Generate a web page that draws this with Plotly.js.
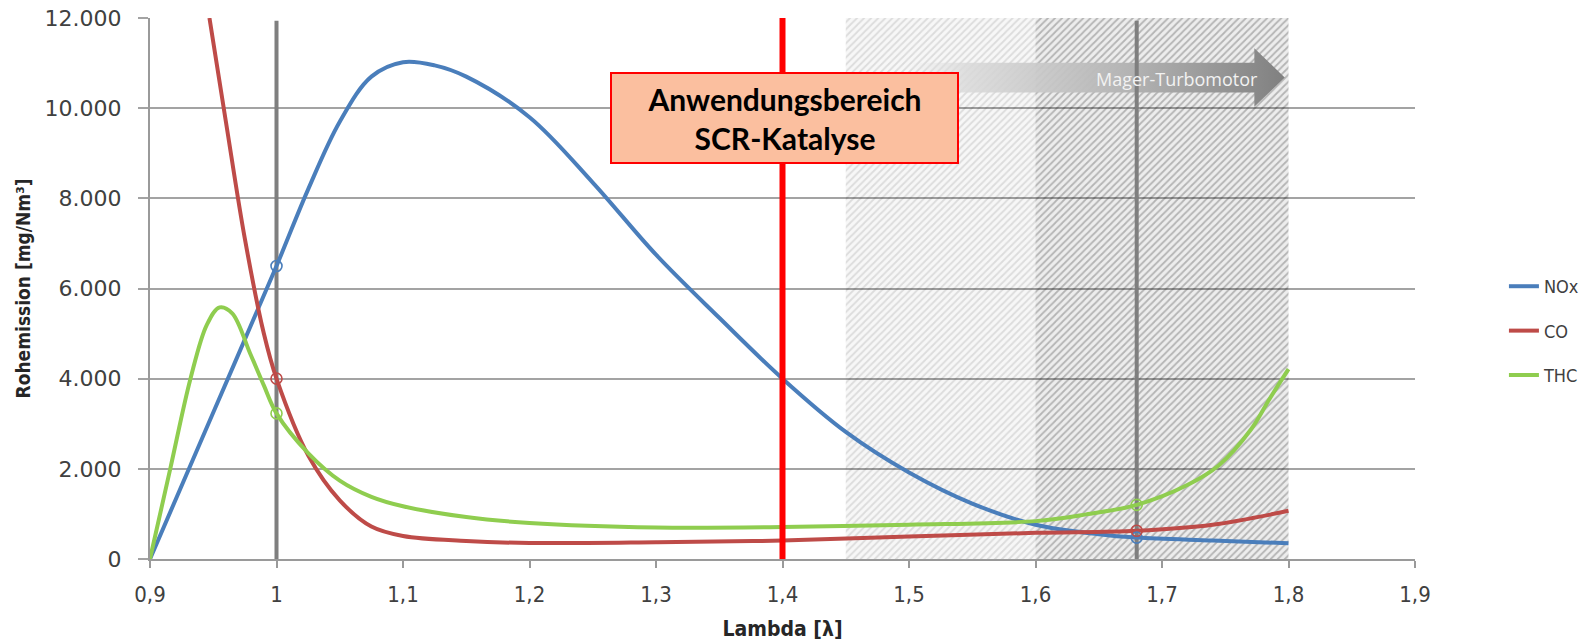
<!DOCTYPE html>
<html>
<head>
<meta charset="utf-8">
<script src="https://cdn.plot.ly/plotly-3.0.1.min.js"></script>
<style>html,body{margin:0;padding:0;background:#fff;}#chart{width:1585px;height:642px;}</style>
</head>
<body>
<div id="chart"></div>
<script>
// ---- Data ----
const seriesNames = ['NOx', 'CO', 'THC'];

const lamNOx = [0.9, 0.95, 1.0, 1.025, 1.05, 1.075, 1.1, 1.125, 1.15, 1.2, 1.25, 1.3, 1.35, 1.4, 1.45, 1.5, 1.55, 1.6, 1.65, 1.68, 1.74, 1.8];
const noxVals = [0, 3250, 6500, 8200, 9700, 10700, 11020, 10950, 10700, 9800, 8350, 6750, 5350, 4000, 2820, 1920, 1230, 760, 550, 475, 410, 350];

const lamCO = [0.947, 0.96, 0.975, 0.99, 1.0, 1.025, 1.05, 1.075, 1.1, 1.15, 1.2, 1.3, 1.4, 1.5, 1.6, 1.68, 1.74, 1.8];
const coVals = [12000, 9700, 7100, 5000, 4000, 2300, 1300, 720, 510, 400, 355, 370, 410, 500, 580, 625, 760, 1070];

const lamTHC = [0.9, 0.916, 0.932, 0.945, 0.955, 0.965, 0.979, 0.99, 1.0, 1.025, 1.05, 1.075, 1.1, 1.15, 1.2, 1.3, 1.4, 1.5, 1.6, 1.64, 1.68, 1.72, 1.745, 1.77, 1.785, 1.8];
const thcVals = [0, 2000, 4000, 5200, 5580, 5450, 4570, 3850, 3230, 2350, 1740, 1380, 1170, 930, 800, 700, 710, 760, 840, 990, 1200, 1640, 2080, 2860, 3550, 4210];

const markerLambdas = [1.0, 1.68];          // measurement points marked with circles
const refLambdas = [1.0, 1.68];             // grey vertical reference lines
const scrLambda = 1.4;                      // red line: SCR application limit
const lightZone = [1.45, 1.6];              // light hatched zone
const darkZone = [1.6, 1.8];                // dark hatched zone
const yRange = [0, 12000];
const xRange = [0.9, 1.9];

const boxText = '<b>Anwendungsbereich<br>SCR-Katalyse</b>';
const arrowText = 'Mager-Turbomotor';
const xTitle = 'Lambda [λ]';
const yTitle = 'Rohemission [mg/Nm³]';

// arrow geometry (data units)
const arrowStart = 1.5, arrowHeadBase = 1.773, arrowTip = 1.797;
const arrowY = 10680, arrowBodyHalf = 330, arrowHeadHalf = 650;

const colors = {NOx: '#4a7ebb', CO: '#be4b48', THC: '#8fcd4f'};

// ---- Helpers ----
function valAt(lams, vals, l) {
  const i = lams.findIndex(v => Math.abs(v - l) < 1e-9);
  return vals[i];
}
function zoneTrace(z, bg, fg) {
  return {
    x: [z[0], z[1], z[1], z[0], z[0]],
    y: [yRange[0], yRange[0], yRange[1], yRange[1], yRange[0]],
    mode: 'lines', line: {width: 0}, fill: 'toself',
    fillcolor: 'rgba(0,0,0,0)',
    fillpattern: {shape: '/', size: 5, solidity: 0.35, bgcolor: bg, fgcolor: fg, fgopacity: 1},
    showlegend: false, hoverinfo: 'skip'
  };
}

const series = [
  {name: 'NOx', x: lamNOx, y: noxVals},
  {name: 'CO', x: lamCO, y: coVals},
  {name: 'THC', x: lamTHC, y: thcVals}
];

const traces = [];
traces.push(zoneTrace(lightZone, 'rgba(0,0,0,0.03)', 'rgba(0,0,0,0.11)'));
traces.push(zoneTrace(darkZone, 'rgba(0,0,0,0.07)', 'rgba(0,0,0,0.24)'));

// gradient arrow
traces.push({
  x: [arrowStart, arrowHeadBase, arrowHeadBase, arrowTip, arrowHeadBase, arrowHeadBase, arrowStart, arrowStart],
  y: [arrowY + arrowBodyHalf, arrowY + arrowBodyHalf, arrowY + arrowHeadHalf, arrowY,
      arrowY - arrowHeadHalf, arrowY - arrowBodyHalf, arrowY - arrowBodyHalf, arrowY + arrowBodyHalf],
  mode: 'lines', line: {width: 0}, fill: 'toself',
  fillgradient: {type: 'horizontal', colorscale: [[0, 'rgba(225,225,225,0)'], [0.15, 'rgba(218,218,218,0.85)'], [0.6, 'rgba(178,178,178,1)'], [1, 'rgb(128,128,128)']]},
  showlegend: false, hoverinfo: 'skip'
});

// grey reference lines
refLambdas.forEach(l => traces.push({
  x: [l, l], y: [yRange[0], yRange[1] - 60], mode: 'lines',
  line: {color: '#7f7f7f', width: 4}, showlegend: false, hoverinfo: 'skip'
}));

series.forEach(s => traces.push({
  x: s.x, y: s.y, name: s.name, legendgroup: s.name, mode: 'lines',
  line: {color: colors[s.name], width: 4, shape: 'spline', smoothing: 1},
  hoverinfo: 'x+y+name'
}));

series.forEach(s => traces.push({
  x: markerLambdas, y: markerLambdas.map(l => valAt(s.x, s.y, l)),
  mode: 'markers', legendgroup: s.name, showlegend: false,
  marker: {symbol: 'circle-open', size: 11, color: colors[s.name], line: {width: 1.6, color: colors[s.name]}},
  hoverinfo: 'skip'
}));

const layout = {
  width: 1585, height: 642,
  margin: {l: 150, r: 170, t: 18, b: 83, pad: 0, autoexpand: false},
  paper_bgcolor: '#ffffff', plot_bgcolor: '#ffffff',
  separators: ',.',
  font: {family: 'DejaVu Sans', color: '#404040'},
  xaxis: {
    range: xRange, tick0: 0.9, dtick: 0.1, showgrid: false, zeroline: false,
    showline: true, linecolor: '#9a9a9a', linewidth: 2,
    ticks: 'outside', ticklen: 7, tickwidth: 2, tickcolor: '#9a9a9a',
    ticklabelstandoff: 8, automargin: false,
    tickfont: {family: 'DejaVu Sans Condensed', size: 22, color: '#404040'},
    title: {text: '<b>' + xTitle + '</b>', standoff: 15,
            font: {family: 'DejaVu Sans Condensed', size: 21, color: '#262626'}}
  },
  yaxis: {
    range: yRange, dtick: 2000, tickformat: ',.0f',
    showgrid: true, gridcolor: '#a3a3a3', gridwidth: 2, zeroline: false,
    showline: true, linecolor: '#9a9a9a', linewidth: 2,
    ticks: 'outside', ticklen: 10, tickwidth: 2, tickcolor: '#a3a3a3',
    ticklabelstandoff: 12, automargin: false,
    tickfont: {family: 'DejaVu Sans', size: 22, color: '#404040'},
    title: {text: '<b>' + yTitle + '</b>', standoff: 9,
            font: {family: 'DejaVu Sans Condensed', size: 19, color: '#262626'}}
  },
  showlegend: true,
  legend: {
    x: 1.0703, xanchor: 'left', y: 0.4214, yanchor: 'middle',
    traceorder: 'grouped', tracegroupgap: 18, itemwidth: 30,
    bgcolor: 'rgba(0,0,0,0)',
    font: {family: 'DejaVu Sans Condensed', size: 18, color: '#404040'}
  },
  shapes: [{
    type: 'line', xref: 'x', yref: 'y', x0: scrLambda, x1: scrLambda, y0: yRange[0], y1: yRange[1],
    line: {color: '#ff0000', width: 6}, layer: 'above'
  }],
  annotations: [
    {x: 1.7115, y: arrowY - 40, xref: 'x', yref: 'y', text: arrowText, showarrow: false,
     font: {family: 'Open Sans', size: 18, color: '#f2f2f2'}},
    {x: 1.4016, y: 9780, xref: 'x', yref: 'y', text: boxText, showarrow: false,
     font: {family: 'Lato', size: 30, color: '#000000'},
     bgcolor: '#fbbf9f', bordercolor: '#ff0000', borderwidth: 2,
     width: 343, height: 86, align: 'center', valign: 'middle'}
  ]
};

Plotly.newPlot('chart', traces, layout, {displayModeBar: false, staticPlot: true});
</script>
</body>
</html>
